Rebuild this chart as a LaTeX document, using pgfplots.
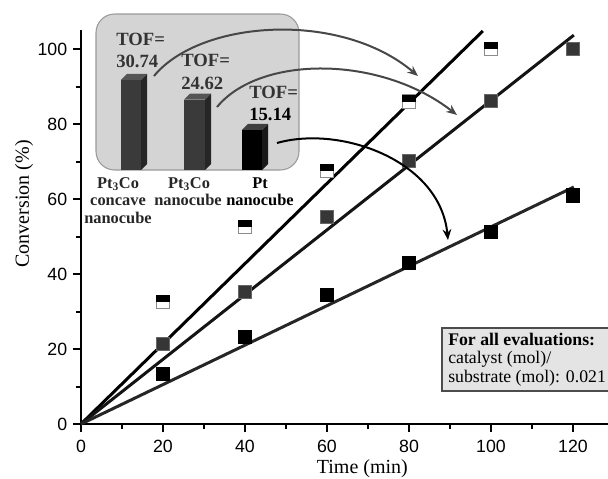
\documentclass[border=0pt]{standalone}
\usepackage{pgfplots}
\pgfplotsset{compat=1.18}
\usepackage{fontspec}
\setmainfont{Liberation Serif}
\setsansfont{Liberation Sans}
\usetikzlibrary{arrows.meta, plotmarks}
\definecolor{insetfill}{HTML}{D4D4D4}
\definecolor{insetdraw}{HTML}{9A9A9A}
\definecolor{boxfill}{HTML}{E4E4E4}
\definecolor{barfront}{HTML}{3A3A3A}
\definecolor{barside}{HTML}{262626}
\definecolor{bartop}{HTML}{555555}
\definecolor{markB}{HTML}{363636}
\definecolor{halfedge}{HTML}{8C8C8C}
% square mark: white lower half with grey outline, black upper half
\pgfdeclareplotmark{tophalfsquare}{%
  \pgfsetlinewidth{0.6pt}%
  \pgfsetstrokecolor{halfedge}%
  \pgfsetfillcolor{white}%
  \pgfpathrectangle{\pgfpoint{-\pgfplotmarksize}{-\pgfplotmarksize}}{\pgfpoint{2\pgfplotmarksize}{2\pgfplotmarksize}}%
  \pgfusepath{fill,stroke}%
  \pgfsetfillcolor{black}%
  \pgfpathrectangle{\pgfpoint{-\pgfplotmarksize}{0pt}}{\pgfpoint{2\pgfplotmarksize}{\pgfplotmarksize}}%
  \pgfusepath{fill}%
}
\begin{document}
\begin{tikzpicture}
\path[use as bounding box, clip] (0,0) rectangle (456pt,-359.25pt);
% ---------- main axis ----------
\begin{axis}[
  at={(60.75pt,-318pt)}, anchor=south west,
  scale only axis, width=395.14pt, height=295.31pt,
  xmin=0, xmax=128.5, ymin=0, ymax=105,
  axis x line=bottom, axis y line=left,
  axis line style={-, line width=1.5pt, black},
  xtick={0,20,...,120}, ytick={0,20,...,100},
  minor x tick num=1, minor y tick num=1,
  tick align=outside, major tick length=6pt, minor tick length=3.75pt,
  every tick/.style={line width=1.5pt, black},
  /pgf/number format/assume math mode=true,
  tick label style={font=\sffamily\fontsize{13.3}{13.3}\selectfont},
  xticklabel style={yshift=-2.5pt},
  yticklabel style={xshift=-0.8pt},
  xlabel={Time (min)}, ylabel={Conversion (\%)},
  label style={font=\fontsize{15}{15}\selectfont},
  xlabel style={at={(axis description cs:0.534,-0.1245)}, anchor=base},
  ylabel style={at={(axis description cs:-0.108,0.559)}, anchor=center},
  clip=false,
]
\addplot[black, line width=2.25pt] coordinates {(0,0) (98,104.8)};
\addplot[black!92, line width=2.25pt] coordinates {(0,0) (120.2,103.7)};
\addplot[black!85, line width=2.25pt] coordinates {(0,0) (120.2,63.2)};
\addplot[only marks, mark=tophalfsquare, mark size=5pt]
  coordinates {(20,32.5)(40,52.5)(60,67.5)(80,86)(100,100)};
\addplot[only marks, mark=square*, mark size=5pt,
  mark options={fill=markB, draw=black!60, line width=0.5pt}]
  coordinates {(20,21.3)(40,35.2)(60,55.2)(80,70.1)(100,86.2)(120,100)};
\addplot[only marks, mark=square*, mark size=5pt,
  mark options={fill=black, draw=black, line width=0.5pt}]
  coordinates {(20,13.3)(40,23.2)(60,34.4)(80,42.9)(100,51.2)(120,61)};
\end{axis}
% ---------- inset background ----------
\begin{scope}[x=0.75pt, y=-0.75pt]
\draw[fill=insetfill, draw=insetdraw, line width=0.8pt, rounded corners=14pt] (96,14) rectangle (299,170);
\end{scope}
% ---------- inset bars (TOF) ----------
\begin{axis}[
  at={(72pt,-127.5pt)}, anchor=south west,
  scale only axis, width=153pt, height=117pt,
  xmin=96, xmax=300, ymin=2.65, ymax=51.32,
  hide axis, clip=false,
]
% bar 1: TOF 30.74
\addplot[fill=barside, draw=none] coordinates {(141,2.65)(141,30.74)(147,32.61)(147,4.52)} -- cycle;
\addplot[fill=bartop, draw=none] coordinates {(121,30.74)(127,32.61)(147,32.61)(141,30.74)} -- cycle;
\addplot[fill=barfront, draw=none] coordinates {(121,2.65)(121,30.74)(141,30.74)(141,2.65)} -- cycle;
% bar 2: TOF 24.62
\addplot[fill=barside, draw=none] coordinates {(205,2.65)(205,24.62)(211,26.49)(211,4.52)} -- cycle;
\addplot[fill=bartop, draw=none] coordinates {(184,24.62)(190,26.49)(211,26.49)(205,24.62)} -- cycle;
\addplot[fill=barfront, draw=none] coordinates {(184,2.65)(184,24.62)(205,24.62)(205,2.65)} -- cycle;
% bar 3: TOF 15.14
\addplot[fill=black!90, draw=none] coordinates {(262,2.65)(262,15.14)(268,17.01)(268,4.52)} -- cycle;
\addplot[fill=black!75, draw=none] coordinates {(242,15.14)(248,17.01)(268,17.01)(262,15.14)} -- cycle;
\addplot[fill=black, draw=none] coordinates {(242,2.65)(242,15.14)(262,15.14)(262,2.65)} -- cycle;
\end{axis}
% ---------- annotations ----------
\begin{scope}[x=0.75pt, y=-0.75pt]
\tikzset{tof/.style={anchor=base west, inner sep=0pt, font=\bfseries\fontsize{14}{14}\selectfont, text=black!80},
         lab/.style={anchor=base, inner sep=0pt, font=\bfseries\fontsize{12.3}{12.3}\selectfont, text=black!85},
         note/.style={anchor=base west, inner sep=0pt, font=\fontsize{13.3}{13.3}\selectfont}}
\node[tof] at (116,45) {TOF=};
\node[tof] at (116,67) {30.74};
\node[tof] at (181,66) {TOF=};
\node[tof] at (181,89) {24.62};
\node[tof] at (249,98) {TOF=};
\node[tof, text=black] at (249,120) {15.14};
\node[lab] at (118,188) {Pt\textsubscript{3}Co};
\node[lab] at (118,205) {concave};
\node[lab] at (118,223) {nanocube};
\node[lab] at (189,188) {Pt\textsubscript{3}Co};
\node[lab] at (188,205) {nanocube};
\node[lab, text=black] at (260,188) {Pt};
\node[lab, text=black] at (260,205) {nanocube};
% right note box
\draw[fill=boxfill, draw=black!70, line width=1.2pt] (442,328) rectangle (620,391);
\node[note, font=\bfseries\fontsize{13.3}{13.3}\selectfont] at (448,345) {For all evaluations:};
\node[note] at (448,363) {catalyst (mol)/};
\node[note] at (448,382) {substrate (mol): 0.021};
% arrows
\draw[line width=1.5pt, black!72, -{Stealth[length=8pt, width=6.5pt]}]
  (154,76) .. controls (200,20) and (340,10) .. (418,76);
\draw[line width=1.5pt, black!72, -{Stealth[length=8pt, width=6.5pt]}]
  (217,107) .. controls (260,55) and (380,55) .. (457,115);
\draw[line width=1.5pt, black, -{Stealth[length=8pt, width=6.5pt]}]
  (277,143) .. controls (340,125) and (440,160) .. (448,240);
\end{scope}
\end{tikzpicture}
\end{document}
